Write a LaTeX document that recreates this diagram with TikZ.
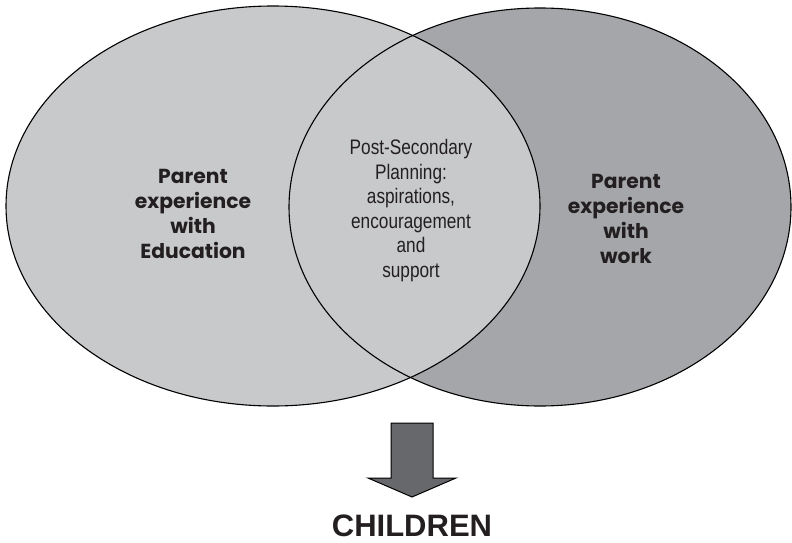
\documentclass[tikz,border=0pt]{standalone}
\usepackage{fontspec}
\setmainfont{Liberation Sans}
\newfontfamily\geofont{Poppins}
\newfontfamily\narrowfont[FakeStretch=0.82]{Liberation Sans}
\definecolor{lightfill}{HTML}{C8C9CB}
\definecolor{darkfill}{HTML}{A5A6A9}
\definecolor{arrowfill}{HTML}{67686C}
\definecolor{textcol}{HTML}{231F20}
\begin{document}
\begin{tikzpicture}[x=1pt,y=-1pt,
  outline/.style={draw=black,line width=1.1pt},
  sidelabel/.style={align=center,text=textcol,font=\geofont\bfseries\fontsize{20.3}{25}\selectfont},
  midlabel/.style={align=center,text=textcol,font=\narrowfont\fontsize{21}{24.6}\selectfont},
  bottomlabel/.style={text=textcol,inner sep=0pt,font=\bfseries\fontsize{31}{36}\selectfont}]
\useasboundingbox (0,0) rectangle (792,543);
% fills
\fill[darkfill] (540,207) ellipse [x radius=251, y radius=199];
\fill[lightfill] (273,206) ellipse [x radius=267, y radius=200];
% outlines
\draw[outline] (540,207) ellipse [x radius=251, y radius=199];
\draw[outline] (273,206) ellipse [x radius=267, y radius=200];
% labels
\node[sidelabel] (edu) at (193,213.5) {Parent\\experience\\with\\Education};
\node[sidelabel] (work) at (626,219) {Parent\\experience\\with\\work};
\node[midlabel] (psp) at (411,210.5) {Post-Secondary\\Planning:\\aspirations,\\encouragement\\and\\support};
% block arrow
\draw[fill=arrowfill,draw=black,line width=1pt,line join=miter]
  (391,423) -- (433,423) -- (433,478) -- (456,478) -- (412,497) -- (368,478) -- (391,478) -- cycle;
\node[bottomlabel,anchor=base] (children) at (412,536) {CHILDREN};
\end{tikzpicture}
\end{document}
